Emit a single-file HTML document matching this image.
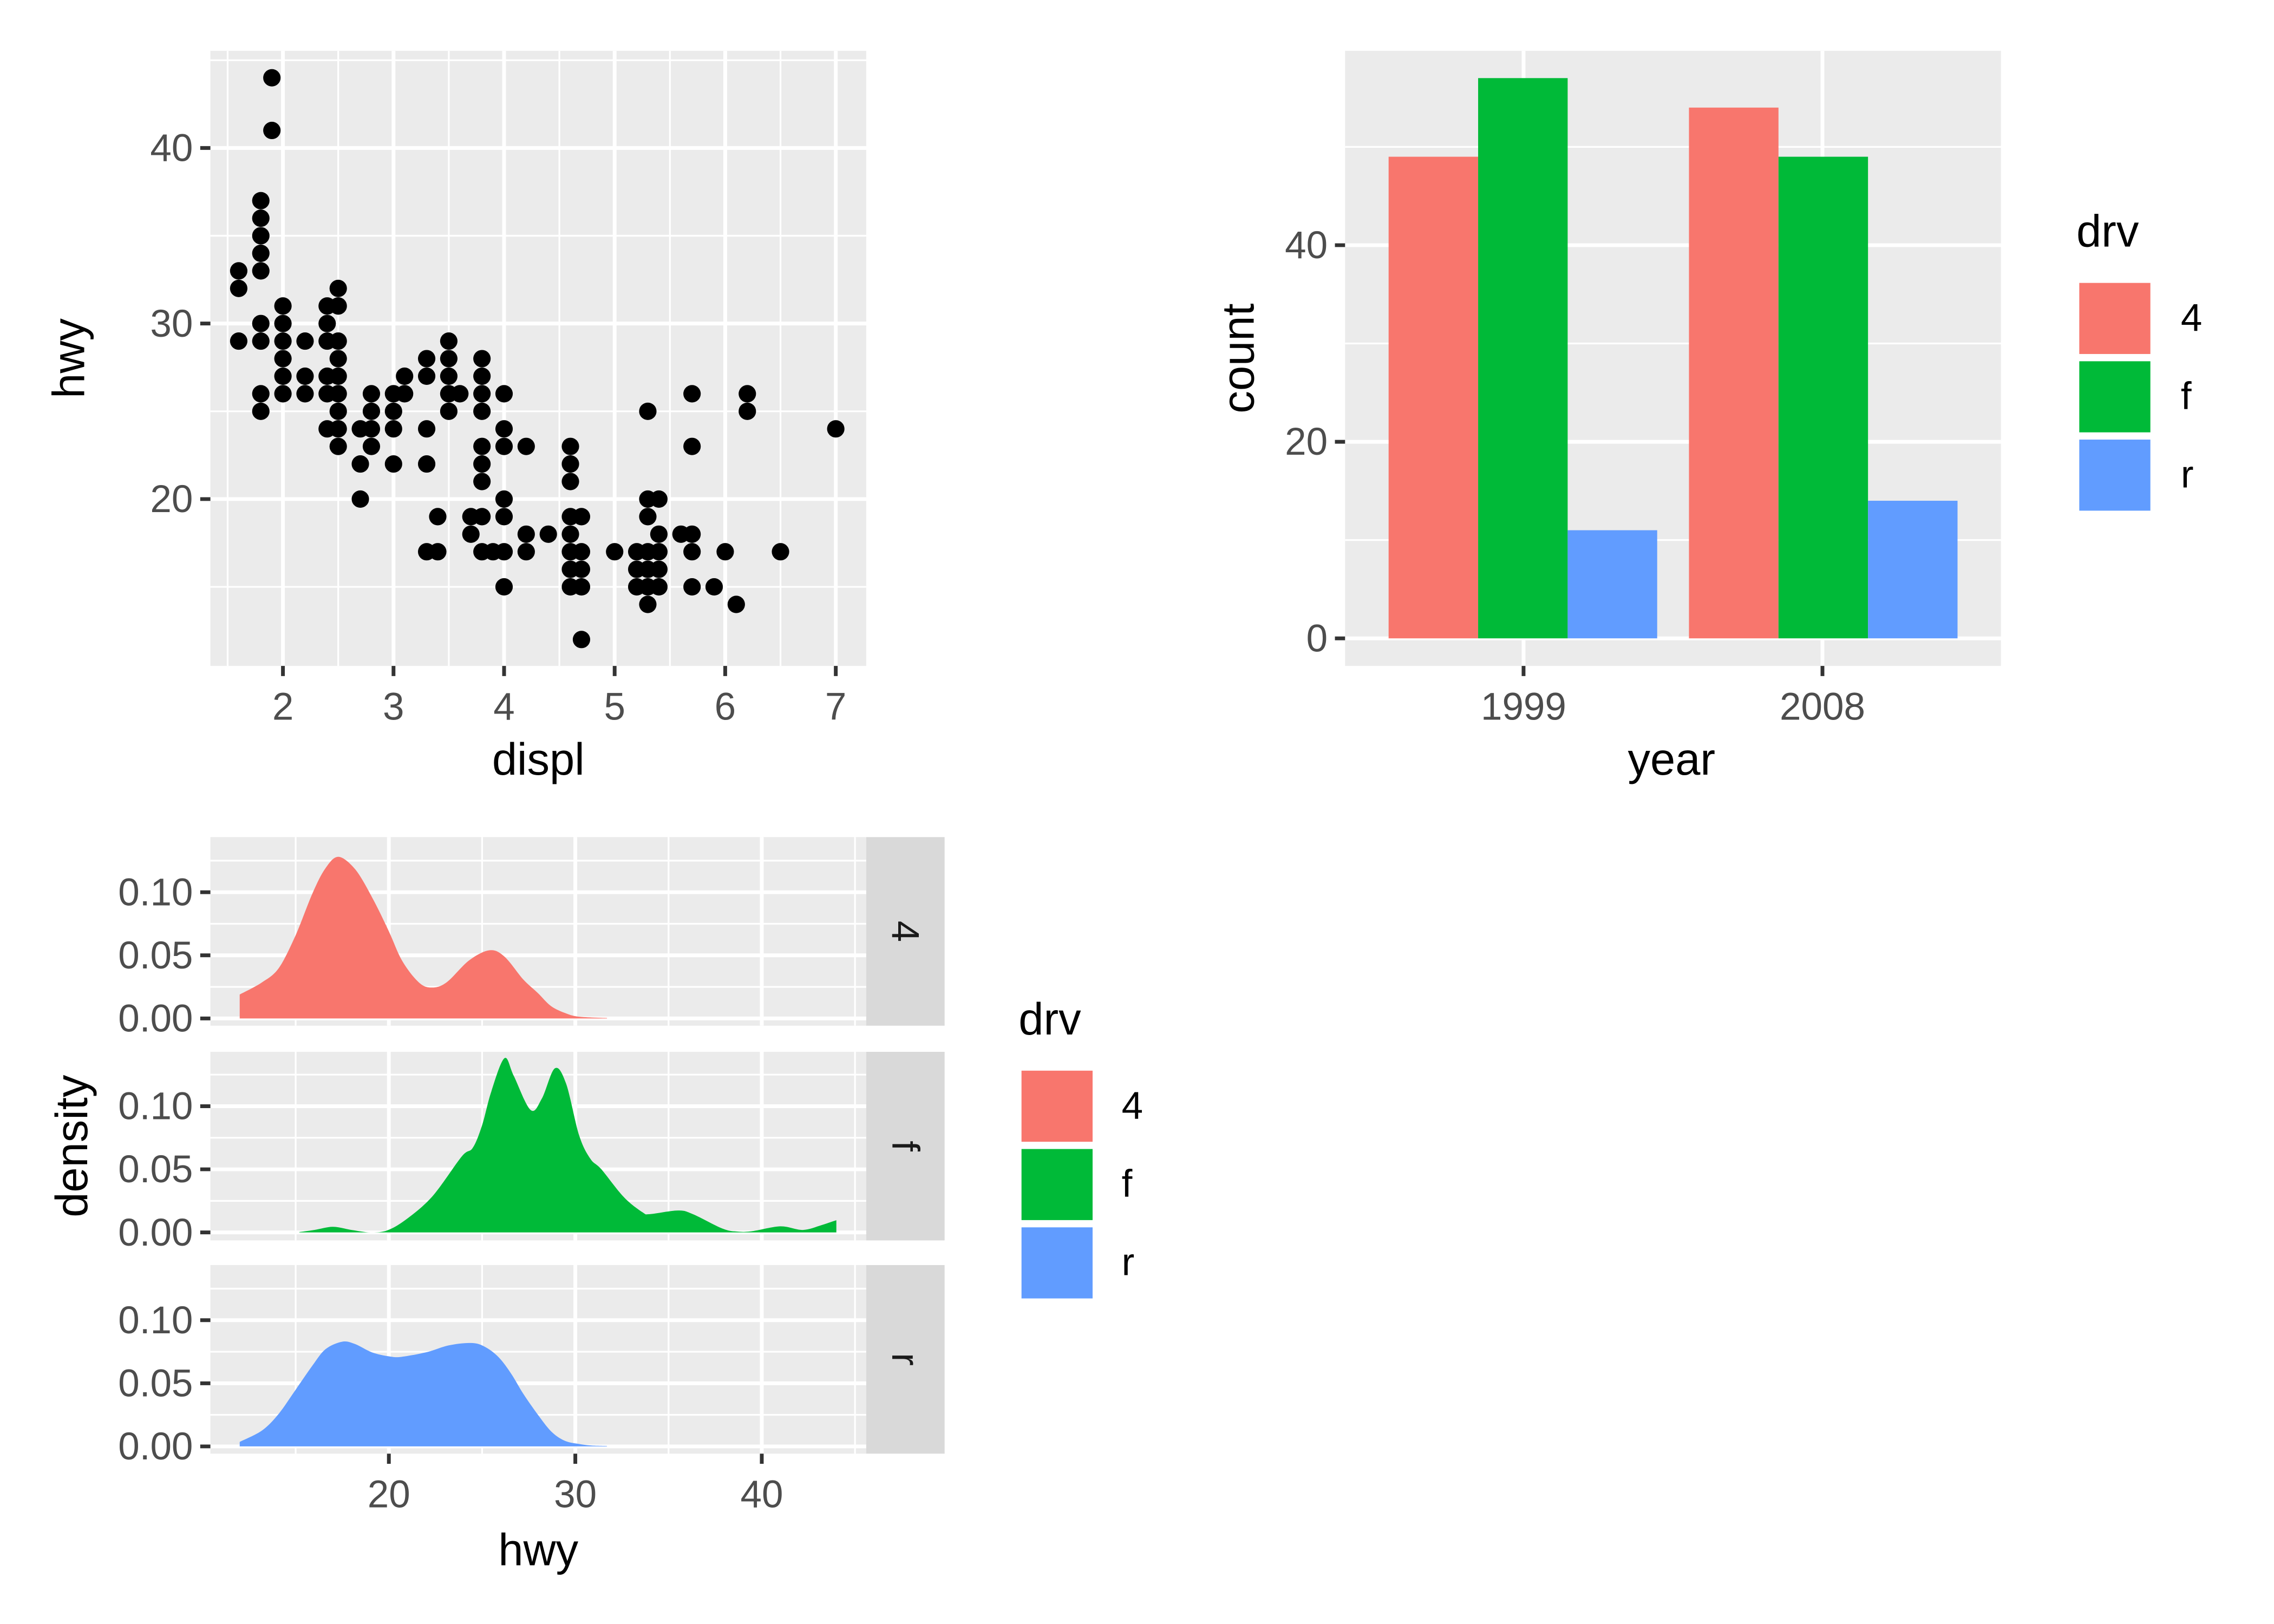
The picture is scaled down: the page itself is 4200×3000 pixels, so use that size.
<!DOCTYPE html>
<html><head><meta charset="utf-8"><style>
html,body{margin:0;padding:0;background:#fff;}
svg{display:block;}
text{font-family:"Liberation Sans",sans-serif;}
</style></head><body>
<svg id="s" xmlns="http://www.w3.org/2000/svg" width="4200" height="3000" viewBox="0 0 1567.2 1119.4">
<rect width="1567.2" height="1119.4" fill="#fff"/>
<g id="g"></g>
</svg>
<script>
var o='';
var TS=26.5, AS=31;
function L(x1,y1,x2,y2,c,w){o+='<line x1="'+x1+'" y1="'+y1+'" x2="'+x2+'" y2="'+y2+'" stroke="'+c+'" stroke-width="'+w+'"/>';}
function R(x,y,w,h,f,extra){o+='<rect x="'+x+'" y="'+y+'" width="'+w+'" height="'+h+'" fill="'+f+'" '+(extra||'')+'/>';}
function T(x,y,s,t,c,anchor,rot){o+='<text x="'+x+'" y="'+y+'" font-size="'+s+'" fill="'+c+'" text-anchor="'+(anchor||'middle')+'"'+(rot?' transform="rotate('+rot+' '+x+' '+y+')"':'')+'>'+t+'</text>';}
var tc='#4d4d4d',tk='#333333',gm='#ffffff';
// ---------- Plot 1 ----------
var px0=145,px1=597,py0=35,py1=459;
R(px0,py0,px1-px0,py1-py0,'#ebebeb');
function X1(d){return 195+(d-2)*76.2;} function Y1(h){return 344-(h-20)*12.1;}
[1.5,2.5,3.5,4.5,5.5,6.5].forEach(function(d){L(X1(d),py0,X1(d),py1,gm,1.2);});
[15,25,35,45].forEach(function(h){L(px0,Y1(h),px1,Y1(h),gm,1.2);});
[2,3,4,5,6,7].forEach(function(d){L(X1(d),py0,X1(d),py1,gm,2.6);L(X1(d),py1,X1(d),py1+7,tk,2.6);T(X1(d),496,TS,d,tc);});
[20,30,40].forEach(function(h){L(px0,Y1(h),px1,Y1(h),gm,2.6);L(px0-7,Y1(h),px0,Y1(h),tk,2.6);T(px0-12,Y1(h)+9,TS,h,tc,'end');});
var pts={1.6:[33,32,29],1.8:[37,36,35,34,33,30,29,26,25],1.9:[44,41],2.0:[31,30,29,28,27,26],2.2:[29,27,26],2.4:[31,30,29,27,26,24],2.5:[32,31,29,28,27,26,25,24,23],2.7:[24,22,20],2.8:[26,25,24,23],3.0:[26,25,24,22],3.1:[27,26],3.3:[28,27,24,22,17],3.4:[19,17],3.5:[29,28,27,26,25],3.6:[26],3.7:[19,18],3.8:[28,27,26,25,23,22,21,19,17],3.9:[17],4.0:[26,24,23,20,19,17,15],4.2:[23,18,17],4.4:[18],4.6:[23,22,21,19,18,17,16,15],4.7:[19,17,16,15,12],5.0:[17],5.2:[17,16,15],5.3:[25,20,19,17,16,15,14],5.4:[20,18,17,16,15],5.6:[18],5.7:[26,23,18,17,15],5.9:[15],6.0:[17],6.1:[14],6.2:[26,25],6.5:[17],7.0:[24]};
for(var k in pts){pts[k].forEach(function(h){o+='<circle cx="'+X1(+k)+'" cy="'+Y1(h)+'" r="6" fill="#000"/>';});}
T(371,534,AS,'displ','#000');
T(58,247,AS,'hwy','#000','middle',-90);
// ---------- Plot 2 ----------
var bx0=927,bx1=1379,by0=35,by1=459;
R(bx0,by0,bx1-bx0,by1-by0,'#ebebeb');
function Y2(c){return 440-c*6.775;}
[10,30,50].forEach(function(c){L(bx0,Y2(c),bx1,Y2(c),gm,1.2);});
[0,20,40].forEach(function(c){L(bx0,Y2(c),bx1,Y2(c),gm,2.6);L(bx0-7,Y2(c),bx0,Y2(c),tk,2.6);T(bx0-12,Y2(c)+9,TS,c,tc,'end');});
[1050,1256].forEach(function(x){L(x,by0,x,by1,gm,2.6);L(x,by1,x,by1+7,tk,2.6);});
T(1050,496,TS,'1999',tc);T(1256,496,TS,'2008',tc);
var cols=['#F8766D','#00BA38','#619CFF'];
[[957,[49,57,11]],[1164,[54,49,14]]].forEach(function(g){g[1].forEach(function(c,i){R(g[0]+i*61.7,Y2(c),61.7,c*6.775,cols[i]);});});
T(1152,534,AS,'year','#000');
T(864,247,AS,'count','#000','middle',-90);
// legend 1
T(1431,170,AS,'drv','#000','start');
['4','f','r'].forEach(function(l,i){R(1432,194+i*54,51,51,cols[i],'stroke="#fff" stroke-width="2"');T(1503,228+i*54,TS,l,'#000','start');});
// ---------- Plot 3 ----------
function X3(h){return 268+(h-20)*12.85;}
var panels=[{y0:577,z:702},{y0:725,z:849.5},{y0:872,z:997}];
var dens=[
[[12,0.019],[13.2,0.0286],[14.1,0.040],[15,0.066],[15.9,0.099],[16.6,0.119],[17.3,0.128],[18.2,0.118],[19.1,0.096],[20,0.069],[20.7,0.046],[21.6,0.0286],[22.3,0.0245],[23.1,0.0286],[24.3,0.046],[25.4,0.054],[26.2,0.049],[27.2,0.031],[28,0.020],[28.7,0.0098],[29.5,0.004],[30.2,0.0014],[31.7,0.0003]],
[[15.2,0.0003],[16,0.002],[17,0.0045],[18,0.002],[19,0],[19.8,0.001],[20.8,0.009],[22.3,0.028],[23.9,0.06],[24.5,0.067],[25,0.085],[25.5,0.112],[26.2,0.138],[26.7,0.124],[27.6,0.097],[28.2,0.106],[28.9,0.13],[29.5,0.118],[30.2,0.077],[30.8,0.0585],[31.4,0.05],[32.6,0.028],[33.6,0.016],[34,0.0145],[35.5,0.0173],[36.3,0.0145],[37.9,0.003],[38.7,0.0007],[39.5,0.001],[41,0.0048],[42.2,0.002],[43.2,0.0058],[44,0.0097]],
[[12,0.0036],[13.2,0.0127],[14.1,0.026],[15,0.045],[15.9,0.064],[16.6,0.077],[17.5,0.083],[18.2,0.081],[19.1,0.0745],[20,0.0714],[20.7,0.071],[22.1,0.075],[23.2,0.080],[24.3,0.082],[25,0.080],[25.8,0.072],[26.5,0.059],[27.2,0.042],[28,0.025],[28.7,0.012],[29.4,0.0047],[30.2,0.0019],[30.9,0.0007],[31.7,0.0004]]];
var labs=['4','f','r'];
panels.forEach(function(p,i){
 var y1=p.y0+130;
 R(145,p.y0,452,130,'#ebebeb');
 function Y(d){return p.z-d*870;}
 [0.025,0.075,0.125].forEach(function(d){L(145,Y(d),597,Y(d),gm,1.2);});
 [15,25,35,45].forEach(function(h){L(X3(h),p.y0,X3(h),y1,gm,1.2);});
 [0,0.05,0.10].forEach(function(d){L(145,Y(d),597,Y(d),gm,2.6);L(138,Y(d),145,Y(d),tk,2.6);T(133,Y(d)+9,TS,d.toFixed(2),tc,'end');});
 [20,30,40].forEach(function(h){L(X3(h),p.y0,X3(h),y1,gm,2.6);});
 var d=dens[i].map(function(q){return [X3(q[0]),Y(q[1])];});
 var s='M'+d[0][0]+','+Y(0)+' L'+d[0][0].toFixed(1)+','+d[0][1].toFixed(1);
 for(var j=0;j<d.length-1;j++){
  var p0=d[Math.max(j-1,0)],p1=d[j],p2=d[j+1],p3=d[Math.min(j+2,d.length-1)];
  var c1x=p1[0]+(p2[0]-p0[0])/6,c1y=p1[1]+(p2[1]-p0[1])/6,c2x=p2[0]-(p3[0]-p1[0])/6,c2y=p2[1]-(p3[1]-p1[1])/6;
  c1y=Math.min(c1y,Y(0));c2y=Math.min(c2y,Y(0));
  s+=' C'+c1x.toFixed(1)+','+c1y.toFixed(1)+' '+c2x.toFixed(1)+','+c2y.toFixed(1)+' '+p2[0].toFixed(1)+','+p2[1].toFixed(1);
 }
 s+=' L'+d[d.length-1][0]+','+Y(0)+'Z';
 o+='<path d="'+s+'" fill="'+cols[i]+'"/>';
 R(597,p.y0,54,130,'#d9d9d9');
 T(615,p.y0+65,TS,labs[i],'#1a1a1a','middle',90);
});
[20,30,40].forEach(function(h){L(X3(h),1002,X3(h),1009,tk,2.6);T(X3(h),1039,TS,h,tc);});
T(371,1079,AS,'hwy','#000');
T(60,790,AS,'density','#000','middle',-90);
// legend 2
T(702,713,AS,'drv','#000','start');
['4','f','r'].forEach(function(l,i){R(703,737+i*54,51,51,cols[i],'stroke="#fff" stroke-width="2"');T(773,771+i*54,TS,l,'#000','start');});
document.getElementById('g').innerHTML=o;
</script>
</body></html>
